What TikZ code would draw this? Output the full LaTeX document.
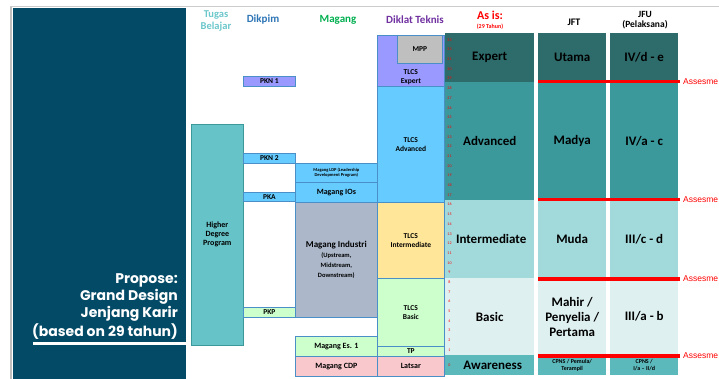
\documentclass[tikz,border=0pt]{standalone}
\usepackage{fontspec}
\setmainfont{Carlito}
\newfontfamily\popfont{Poppins}
\newfontfamily\arialfont{Liberation Sans}
\definecolor{panel}{HTML}{034A66}
\definecolor{bord}{HTML}{4A8FC8}
\definecolor{cExpert}{HTML}{2E6C6B}
\definecolor{cAdv}{HTML}{3B999C}
\definecolor{cInt}{HTML}{A2D9DB}
\definecolor{cBas}{HTML}{DFF0F0}
\definecolor{cAw}{HTML}{5BB9BC}
\definecolor{cPurp}{HTML}{9999FF}
\definecolor{cBlue}{HTML}{66CCFF}
\definecolor{cGreen}{HTML}{CCFFCC}
\definecolor{cPink}{HTML}{F8C8CC}
\definecolor{cGray}{HTML}{ACB8CA}
\definecolor{cYel}{HTML}{FFE699}
\definecolor{cHD}{HTML}{66C3C8}
\definecolor{cMPP}{HTML}{BFBFBF}
\definecolor{hTeal}{HTML}{6CC7CB}
\definecolor{hBlue}{HTML}{2E75B6}
\definecolor{hGreen}{HTML}{00B050}
\definecolor{hPurp}{HTML}{7030A0}
\newcommand\fs[1]{\fontsize{#1}{#1}\selectfont}
\newcommand\R[7]{\node[#6, anchor=north west, minimum width={(#4-#2)*1pt}, minimum height={(#5-#3)*1pt}] (#1) at (#2,#3) {#7};}
\tikzset{
  x=1pt, y=-1pt,
  bx/.style={draw=bord, line width=0.7pt, inner sep=0pt, align=center, font=\bfseries\fs{7.5}},
  band/.style={draw=none, inner sep=0pt, align=center, font=\bfseries\fs{13}},
  hdr/.style={inner sep=0pt, align=center, font=\bfseries\fs{11}},
  num/.style={inner sep=0pt, text=red, font=\fs{4}},
  redline/.style={draw=red, line width=3.5pt},
  ass/.style={inner sep=0pt, anchor=west, text=red, font=\arialfont\fs{8.5}},
}
\begin{document}
\begin{tikzpicture}
\useasboundingbox (0,0) rectangle (719,379);
\fill[white] (0,0) rectangle (719,379);
% frame lines
\draw[gray!40, line width=1pt] (10,7) -- (719,7);
\draw[gray!50, line width=2pt] (11,7) -- (11,379);
% left panel
\fill[panel] (13,8) rectangle (186,379);
\node[inner sep=0pt, anchor=east, align=right, text=white, font=\popfont\bfseries\fs{14}] (title) at (178,306.5)
  {Propose:\\[1pt] Grand Design\\[1pt] Jenjang Karir\\[1pt] (based on 29 tahun)};
\coordinate (wl1) at (33,343);
\coordinate (wl2) at (186,343);
\draw[white, line width=3pt] (wl1) -- (wl2);
% headers
\node[hdr, text=hTeal, font=\bfseries\fs{10.5}] (hTB) at (216,21) {Tugas\\[1pt]Belajar};
\node[hdr, text=hBlue] (hDK) at (263,20) {Dikpim};
\node[hdr, text=hGreen] (hMG) at (338,20) {Magang};
\node[hdr, text=hPurp] (hDT) at (415,20) {Diklat Teknis};
\node[hdr, text=red, font=\bfseries\fs{12}] (hAI) at (490,15) {As is:};
\node[hdr, text=red, font=\bfseries\fs{6}] (hAI2) at (490,27) {(29 Tahun)};
\node[hdr, font=\bfseries\fs{10}] (hJFT) at (574,22) {JFT};
\node[hdr, font=\bfseries\fs{9.5}] (hJFU) at (645,20) {JFU\\[1pt](Pelaksana)};
% Tugas belajar
\R{hdp}{191}{124}{243}{345}{bx, fill=cHD, draw=cAdv, font=\bfseries\fs{8}}{Higher\\[1pt]Degree\\[1pt]Program}
% Dikpim
\R{pkn1}{243}{76}{295}{86}{bx, fill=cPurp}{PKN 1}
\R{pkn2}{243}{153}{295}{163}{bx, fill=cBlue}{PKN 2}
\R{pka}{243}{192}{295}{201}{bx, fill=cBlue}{PKA}
\R{pkp}{243}{307}{295}{317}{bx, fill=cGreen}{PKP}
% Magang
\R{ldp}{295}{163}{377}{182}{bx, fill=cBlue, font=\bfseries\fs{4.5}}{Magang LDP (Leadership\\Development Program)}
\R{ios}{295}{182}{377}{202}{bx, fill=cBlue, font=\bfseries\fs{8}}{Magang IOs}
\R{mind}{295}{202}{377}{317}{bx, fill=cGray, font=\bfseries\fs{9}}{Magang Industri\\[1pt]{\fs{6.5}(Upstream,}\\[1pt]{\fs{6.5}Midstream,}\\[1pt]{\fs{6.5}Downstream)}}
\R{mes}{295}{336}{377}{356}{bx, fill=cGreen, font=\bfseries\fs{8}}{Magang Es. 1}
\R{mcdp}{295}{356}{377}{376}{bx, fill=cPink, font=\bfseries\fs{8}}{Magang CDP}
% Diklat Teknis
\R{tex}{377}{35}{444}{86}{bx, fill=cPurp}{\\[30pt]TLCS\\[1pt]Expert}
\R{mpp}{397}{35}{442}{63}{bx, fill=cMPP}{MPP}
\R{tadv}{377}{86}{444}{202}{bx, fill=cBlue}{TLCS\\[1pt]Advanced}
\R{tint}{377}{202}{444}{278}{bx, fill=cYel}{TLCS\\[1pt]Intermediate}
\R{tbas}{377}{278}{444}{346}{bx, fill=cGreen}{TLCS\\[1pt]Basic}
\R{tp}{377}{346}{444}{356}{bx, fill=cGreen}{TP}
\R{lats}{377}{356}{444}{376}{bx, fill=cPink, font=\bfseries\fs{8}}{Latsar}
% As is column
\R{aExp}{445}{33}{534}{82}{band, fill=cExpert}{Expert}
\R{aAdv}{445}{82}{534}{200}{band, fill=cAdv}{Advanced}
\R{aInt}{445}{200}{534}{278}{band, fill=cInt}{\hspace*{3pt}Intermediate}
\R{aBas}{445}{278}{534}{355}{band, fill=cBas}{Basic}
\R{aAw}{445}{355}{534}{375}{band, fill=cAw}{\hspace*{6pt}Awareness}
\foreach \n in {1,...,33}{
  \node[num] (n\n) at (449.5,{350-(\n-1)*9.69}) {\n};
}
\node[num] (n0) at (449.5,365) {0};
% JFT
\R{jExp}{538}{33}{606}{82}{band, fill=cExpert}{Utama}
\R{jAdv}{538}{82}{606}{200}{band, fill=cAdv}{Madya}
\R{jInt}{538}{200}{606}{278}{band, fill=cInt}{Muda}
\R{jBas}{538}{278}{606}{355}{band, fill=cBas}{Mahir /\\[2pt]Penyelia /\\[2pt]Pertama}
\R{jAw}{538}{355}{606}{375}{band, fill=cAw, font=\bfseries\fs{6}}{CPNS / Pemula/\\[1.5pt]Terampil}
% JFU
\R{uExp}{610}{33}{678}{82}{band, fill=cExpert}{IV/d - e}
\R{uAdv}{610}{82}{678}{200}{band, fill=cAdv}{IV/a - c}
\R{uInt}{610}{200}{678}{278}{band, fill=cInt}{III/c - d}
\R{uBas}{610}{278}{678}{355}{band, fill=cBas}{III/a - b}
\R{uAw}{610}{355}{678}{375}{band, fill=cAw, font=\bfseries\fs{6}}{CPNS /\\[1.5pt]I/a -- II/d}
% assessment lines
\foreach \k/\yy in {1/81.5,2/199.5,3/279,4/356}{
  \coordinate (la\k) at (538,\yy);
  \coordinate (lb\k) at (680,\yy);
  \draw[redline] (la\k) -- (lb\k);
  \node[ass] (as\k) at (683,\yy) {Assesme};
}
\end{tikzpicture}
\end{document}
